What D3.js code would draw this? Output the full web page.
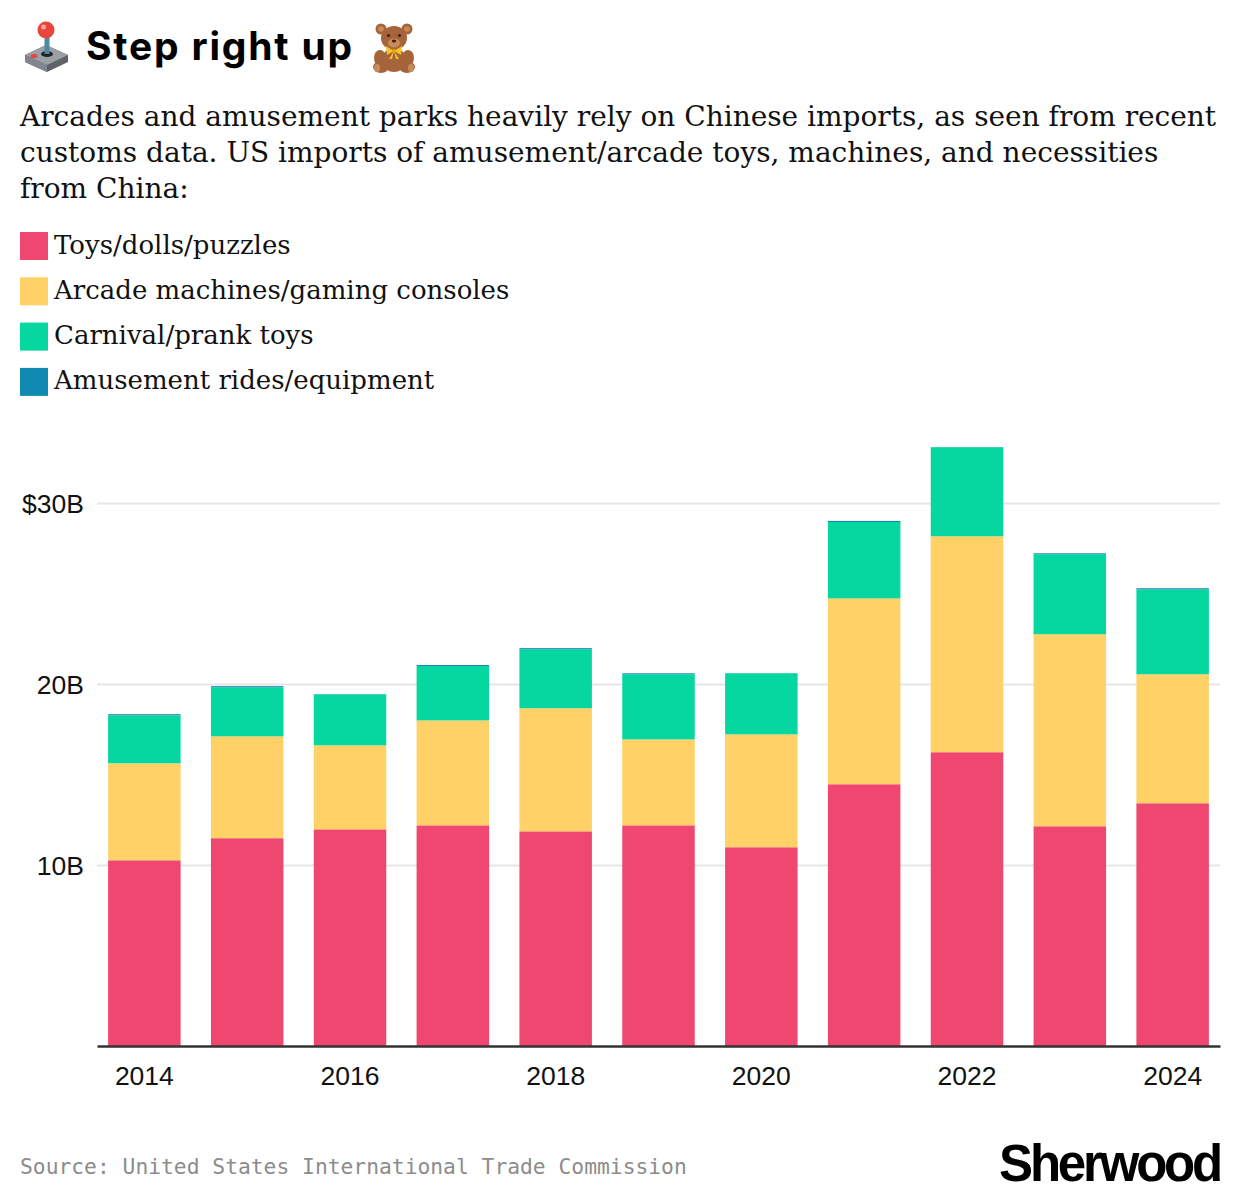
<!DOCTYPE html>
<html>
<head>
<meta charset="utf-8">
<script src="https://cdn.jsdelivr.net/npm/d3@7"></script>
<style>
  html, body { margin: 0; padding: 0; background: #fff; }
  svg { display: block; }
</style>
</head>
<body>
<svg id="chart" width="1240" height="1204"></svg>
<script>
// ---- data ----
const years = [2014, 2015, 2016, 2017, 2018, 2019, 2020, 2021, 2022, 2023, 2024];
const toys     = [10.26, 11.48, 11.97, 12.19, 11.86, 12.19, 10.98, 14.46, 16.23, 12.14, 13.41];
const arcade   = [5.36, 5.63, 4.64, 5.80, 6.80, 4.75, 6.24, 10.27, 11.93, 10.61, 7.13];
const carnival = [2.65, 2.71, 2.82, 3.00, 3.26, 3.60, 3.37, 4.22, 4.92, 4.42, 4.69];
const rides    = [0.06, 0.06, 0.01, 0.06, 0.06, 0.05, 0.01, 0.06, 0.01, 0.05, 0.06];
const seriesNames = ["Toys/dolls/puzzles", "Arcade machines/gaming consoles", "Carnival/prank toys", "Amusement rides/equipment"];
const seriesColors = ["#EF476F", "#FFD166", "#06D6A0", "#118AB2"];
const yTicks = [10, 20, 30];
const xTickYears = [2014, 2016, 2018, 2020, 2022, 2024];
const titleText = "Step right up";
const subtitleLines = [
  "Arcades and amusement parks heavily rely on Chinese imports, as seen from recent",
  "customs data. US imports of amusement/arcade toys, machines, and necessities",
  "from China:"
];
const sourceText = "Source: United States International Trade Commission";
const logoText = "Sherwood";

// ---- build table ----
const keys = ["toys", "arcade", "carnival", "rides"];
const table = years.map((yr, i) => ({year: yr, toys: toys[i], arcade: arcade[i], carnival: carnival[i], rides: rides[i]}));
const stacked = d3.stack().keys(keys)(table);

const svg = d3.select("#chart");
const serif = "'DejaVu Serif', serif";
const sans = "'Liberation Sans', Arial, sans-serif";

// ---- title ----
// joystick icon
const joy = svg.append("g").attr("class", "icon-joystick");
joy.append("path").attr("d", "M25,55 L46,45 L68,55 L68,62 L47,72 L25,62 Z").attr("fill", "#5f6368");
joy.append("path").attr("d", "M25,55 L46,45 L68,55 L47,65 Z").attr("fill", "#9aa0a6");
joy.append("path").attr("d", "M25,55 L47,65 L47,72 L25,62 Z").attr("fill", "#80868b");
joy.append("ellipse").attr("cx", 47).attr("cy", 54).attr("rx", 6).attr("ry", 3).attr("fill", "#202124");
joy.append("rect").attr("x", 44.5).attr("y", 33).attr("width", 5).attr("height", 21).attr("fill", "#4f8a9c");
joy.append("circle").attr("cx", 46).attr("cy", 30).attr("r", 8.5).attr("fill", "#e8453c");
joy.append("circle").attr("cx", 43.5).attr("cy", 27).attr("r", 2.5).attr("fill", "#f8a29a");
joy.append("ellipse").attr("cx", 34).attr("cy", 56).attr("rx", 3.5).attr("ry", 2).attr("fill", "#e8453c");

svg.append("text")
  .attr("x", 86).attr("y", 60)
  .attr("font-family", "Inter, 'Liberation Sans', sans-serif")
  .attr("font-weight", 700)
  .attr("font-size", 39)
  .attr("letter-spacing", 1.8)
  .attr("fill", "#000")
  .text(titleText);

// teddy bear icon
const bear = svg.append("g").attr("class", "icon-bear");
const brown = "#a5643a", light = "#c98b5c", dark = "#3e2415";
bear.append("circle").attr("cx", 381).attr("cy", 29).attr("r", 5.5).attr("fill", brown);
bear.append("circle").attr("cx", 407).attr("cy", 29).attr("r", 5.5).attr("fill", brown);
bear.append("circle").attr("cx", 381).attr("cy", 29).attr("r", 2.8).attr("fill", light);
bear.append("circle").attr("cx", 407).attr("cy", 29).attr("r", 2.8).attr("fill", light);
bear.append("ellipse").attr("cx", 380).attr("cy", 58).attr("rx", 6).attr("ry", 8).attr("fill", brown);
bear.append("ellipse").attr("cx", 408).attr("cy", 58).attr("rx", 6).attr("ry", 8).attr("fill", brown);
bear.append("ellipse").attr("cx", 394).attr("cy", 60).attr("rx", 12).attr("ry", 12).attr("fill", brown);
bear.append("ellipse").attr("cx", 381).attr("cy", 67).attr("rx", 8).attr("ry", 6).attr("fill", brown);
bear.append("ellipse").attr("cx", 407).attr("cy", 67).attr("rx", 8).attr("ry", 6).attr("fill", brown);
bear.append("ellipse").attr("cx", 377).attr("cy", 68).attr("rx", 3).attr("ry", 4).attr("fill", light);
bear.append("ellipse").attr("cx", 411).attr("cy", 68).attr("rx", 3).attr("ry", 4).attr("fill", light);
bear.append("ellipse").attr("cx", 394).attr("cy", 38).attr("rx", 13).attr("ry", 12).attr("fill", brown);
bear.append("ellipse").attr("cx", 394).attr("cy", 43).attr("rx", 6).attr("ry", 4.5).attr("fill", light);
bear.append("ellipse").attr("cx", 394).attr("cy", 41).attr("rx", 2.2).attr("ry", 1.5).attr("fill", dark);
bear.append("circle").attr("cx", 388.5).attr("cy", 35.5).attr("r", 1.6).attr("fill", dark);
bear.append("circle").attr("cx", 399.5).attr("cy", 35.5).attr("r", 1.6).attr("fill", dark);
bear.append("path").attr("d", "M394,51 L386,46 L387,55 Z M394,51 L402,46 L401,55 Z M394,51 L389,59 L392,59 Z M394,51 L399,59 L396,59 Z").attr("fill", "#f6c12a");
bear.append("circle").attr("cx", 394).attr("cy", 51).attr("r", 2).attr("fill", "#e9a80f");

// ---- subtitle ----
const sub = svg.append("text")
  .attr("font-family", serif).attr("font-size", 28).attr("fill", "#111");
subtitleLines.forEach((ln, i) => {
  sub.append("tspan").attr("x", 20).attr("y", 126 + i * 36).text(ln);
});

// ---- legend ----
const legend = svg.append("g").attr("class", "legend");
seriesNames.forEach((name, i) => {
  const g = legend.append("g").attr("transform", `translate(20,${232 + i * 45.3})`);
  g.append("rect").attr("width", 28).attr("height", 28).attr("fill", seriesColors[i]);
  g.append("text").attr("x", 34).attr("y", 21.5)
    .attr("font-family", serif).attr("font-size", 26).attr("fill", "#111")
    .text(name);
});

// ---- scales ----
const x = d3.scaleBand().domain(years).range([97, 1220]).paddingInner(0.295).paddingOuter(0.108);
const y = d3.scaleLinear().domain([0, 30]).range([1046, 503]);

// gridlines + y labels
const yAxis = svg.append("g").attr("transform", "translate(97,0)")
  .call(d3.axisLeft(y).tickValues(yTicks).tickSize(-(1220 - 97)).tickPadding(13)
    .tickFormat(d => d === 30 ? "$30B" : d + "B"));
yAxis.select(".domain").remove();
yAxis.selectAll(".tick line").attr("stroke", "#e6e6e6").attr("stroke-width", 2);
yAxis.selectAll(".tick text").attr("font-family", sans).attr("font-size", 26.5).attr("fill", "#111").attr("dy", "0.36em");

// bars
svg.append("g").selectAll("g").data(stacked).join("g")
  .attr("fill", (d, i) => seriesColors[i])
  .selectAll("rect").data(d => d).join("rect")
  .attr("x", d => x(d.data.year))
  .attr("width", x.bandwidth())
  .attr("y", d => y(d[1]))
  .attr("height", d => y(d[0]) - y(d[1]));

// x axis
const xAxis = svg.append("g").attr("transform", "translate(0,1046)")
  .call(d3.axisBottom(x).tickValues(xTickYears).tickSize(0).tickPadding(20.5).tickSizeOuter(0));
xAxis.select(".domain").attr("stroke", "#333").attr("stroke-width", 2.5);
xAxis.selectAll(".tick text").attr("font-family", sans).attr("font-size", 26.5).attr("fill", "#111");

// ---- footer ----
svg.append("text").attr("x", 20).attr("y", 1174)
  .attr("font-family", "'DejaVu Sans Mono', 'Liberation Mono', monospace")
  .attr("font-size", 21.3).attr("fill", "#8c8c8c")
  .text(sourceText);

svg.append("text").attr("x", 1220).attr("y", 1181)
  .attr("text-anchor", "end")
  .attr("font-family", "'Liberation Sans', Arial, sans-serif")
  .attr("font-weight", 700).attr("font-size", 51).attr("letter-spacing", -3.2)
  .attr("fill", "#000")
  .text(logoText);
</script>
</body>
</html>
